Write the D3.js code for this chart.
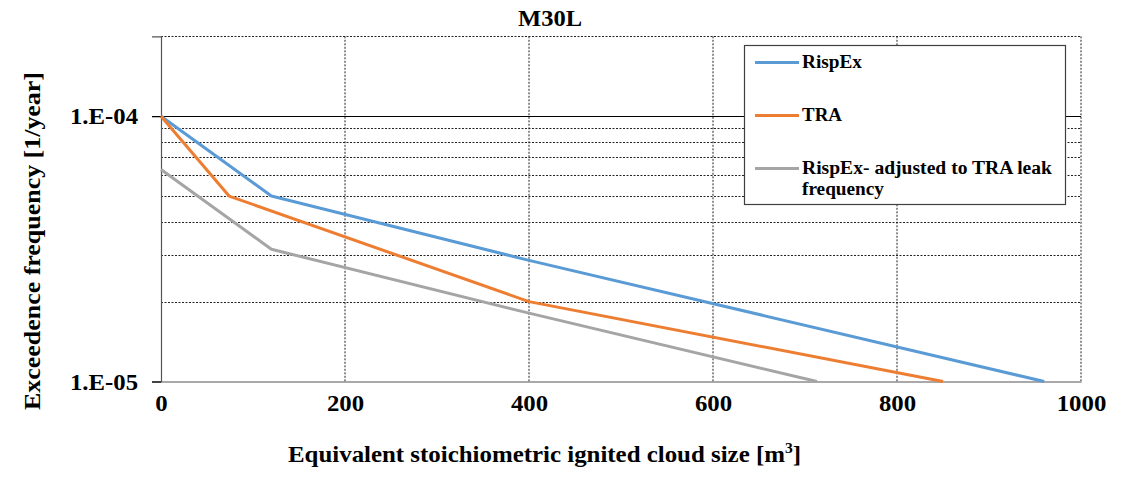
<!DOCTYPE html>
<html>
<head>
<meta charset="utf-8">
<script src="https://cdn.jsdelivr.net/npm/d3@7"></script>
<style>
  html, body { margin: 0; padding: 0; background: #fff; }
  svg text { font-family: "Liberation Serif", "Tinos", "Times New Roman", "DejaVu Serif", serif !important; font-weight: bold; }
</style>
</head>
<body>
<svg id="chart" width="1135" height="479"></svg>
<script>
// Exceedence frequency curves for M30L
const seriesNames = ["RispEx", "TRA", "RispEx- adjusted to TRA leak frequency"];
const seriesColors = ["#5B9BD5", "#ED7D31", "#A5A5A5"];

const rispexSize = [0, 120, 400, 960];
const rispexFreq = [1.0e-4, 5.0e-5, 2.86e-5, 1.0e-5];

const traSize = [0, 74, 400, 850];
const traFreq = [1.0e-4, 5.0e-5, 2.0e-5, 1.0e-5];

const adjustedSize = [0, 120, 400, 713];
const adjustedFreq = [6.3e-5, 3.15e-5, 1.81e-5, 1.0e-5];

const xTicks = [0, 200, 400, 600, 800, 1000];
const yLabelTicks = [1e-5, 1e-4];
const yLabelText = ["1.E-05", "1.E-04"];
const yMinorGrid = [2e-5, 3e-5, 4e-5, 5e-5, 6e-5, 7e-5, 8e-5, 9e-5, 2e-4];

const svg = d3.select("#chart");
const plot = { left: 161, right: 1081, top: 36.3, bottom: 381.5 };

const x = d3.scaleLinear().domain([0, 1000]).range([plot.left, plot.right]);
const y = d3.scaleLog().domain([1e-5, 2e-4]).range([plot.bottom, plot.top]);

// Vertical dashed grid
svg.append("g").selectAll("line")
  .data(xTicks.slice(1))
  .join("line")
  .attr("x1", d => x(d)).attr("x2", d => x(d))
  .attr("y1", plot.top).attr("y2", plot.bottom)
  .attr("stroke", "#222").attr("stroke-width", 1)
  .attr("stroke-dasharray", "2,1.5");

// Horizontal minor grid (dashed)
svg.append("g").selectAll("line")
  .data(yMinorGrid)
  .join("line")
  .attr("x1", plot.left).attr("x2", plot.right)
  .attr("y1", d => Math.round(y(d)) + 0.5).attr("y2", d => Math.round(y(d)) + 0.5)
  .attr("stroke", "#222").attr("stroke-width", 1)
  .attr("stroke-dasharray", "2,1.5");

// Major decade line
svg.append("line")
  .attr("x1", plot.left - 9).attr("x2", plot.right)
  .attr("y1", Math.round(y(1e-4)) + 0.5).attr("y2", Math.round(y(1e-4)) + 0.5)
  .attr("stroke", "#000").attr("stroke-width", 1.2);

// Axes
const yAxis = d3.axisLeft(y).tickValues(yLabelTicks).tickFormat((d, i) => yLabelText[i]).tickSize(9).tickPadding(14);
const gy = svg.append("g").attr("transform", `translate(${plot.left},0)`).call(yAxis);
gy.attr("font-family", null);
gy.select(".domain").attr("stroke", "#555").attr("stroke-width", 1.2);
gy.selectAll(".tick line").attr("stroke", "#000").attr("stroke-width", 1.2);
gy.selectAll(".tick text").attr("font-size", 24).attr("fill", "#000")
  .attr("textLength", 68).attr("lengthAdjust", "spacingAndGlyphs");

const xAxis = d3.axisBottom(x).tickValues(xTicks).tickSize(0).tickPadding(12).tickFormat(d3.format("d"));
const gx = svg.append("g").attr("transform", `translate(0,${plot.bottom})`).call(xAxis);
gx.attr("font-family", null);
gx.select(".domain").attr("stroke", "#555").attr("stroke-width", 1.2);
gx.selectAll(".tick text").attr("font-size", 24).attr("fill", "#000")
  .attr("textLength", d => String(d).length * 12.4).attr("lengthAdjust", "spacingAndGlyphs");

// Series lines
const line = d3.line().x(d => x(d[0])).y(d => y(d[1]));
const series = [
  d3.zip(rispexSize, rispexFreq),
  d3.zip(traSize, traFreq),
  d3.zip(adjustedSize, adjustedFreq)
];
svg.append("g").selectAll("path")
  .data(series)
  .join("path")
  .attr("d", line)
  .attr("fill", "none")
  .attr("stroke", (d, i) => seriesColors[i])
  .attr("stroke-width", 3)
  .attr("stroke-linejoin", "round");

// Title
svg.append("text")
  .attr("x", 550).attr("y", 26)
  .attr("text-anchor", "middle")
  .attr("font-size", 24)
  .attr("textLength", 64).attr("lengthAdjust", "spacingAndGlyphs")
  .text("M30L");

// Axis titles
const xt = svg.append("text")
  .attr("x", 544.5).attr("y", 462)
  .attr("text-anchor", "middle")
  .attr("font-size", 24)
  .attr("textLength", 513).attr("lengthAdjust", "spacingAndGlyphs");
xt.append("tspan").text("Equivalent stoichiometric ignited cloud size [m");
xt.append("tspan").attr("font-size", 15).attr("dy", -9).text("3");
xt.append("tspan").attr("dy", 9).text("]");

svg.append("text")
  .attr("transform", "translate(40,241) rotate(-90)")
  .attr("text-anchor", "middle")
  .attr("font-size", 24)
  .attr("textLength", 338).attr("lengthAdjust", "spacingAndGlyphs")
  .text("Exceedence frequency [1/year]");

// Legend
const legend = svg.append("g");
legend.append("rect")
  .attr("x", 744.5).attr("y", 45.5).attr("width", 321).attr("height", 159)
  .attr("fill", "#fff").attr("stroke", "#404040").attr("stroke-width", 1.2);

const legendRows = [
  { lineY: 62.5, lines: [{ t: seriesNames[0], y: 68, w: 60 }] },
  { lineY: 115.5, lines: [{ t: seriesNames[1], y: 121, w: 40 }] },
  { lineY: 168.5, lines: [{ t: "RispEx- adjusted to TRA leak", y: 174, w: 250 }, { t: "frequency", y: 195, w: 82 }] }
];
legendRows.forEach((row, i) => {
  legend.append("line")
    .attr("x1", 755).attr("x2", 799)
    .attr("y1", row.lineY).attr("y2", row.lineY)
    .attr("stroke", seriesColors[i]).attr("stroke-width", 3);
  row.lines.forEach(l => {
    legend.append("text")
      .attr("x", 802).attr("y", l.y)
      .attr("font-size", 18)
      .attr("textLength", l.w).attr("lengthAdjust", "spacingAndGlyphs")
      .text(l.t);
  });
});
</script>
</body>
</html>
